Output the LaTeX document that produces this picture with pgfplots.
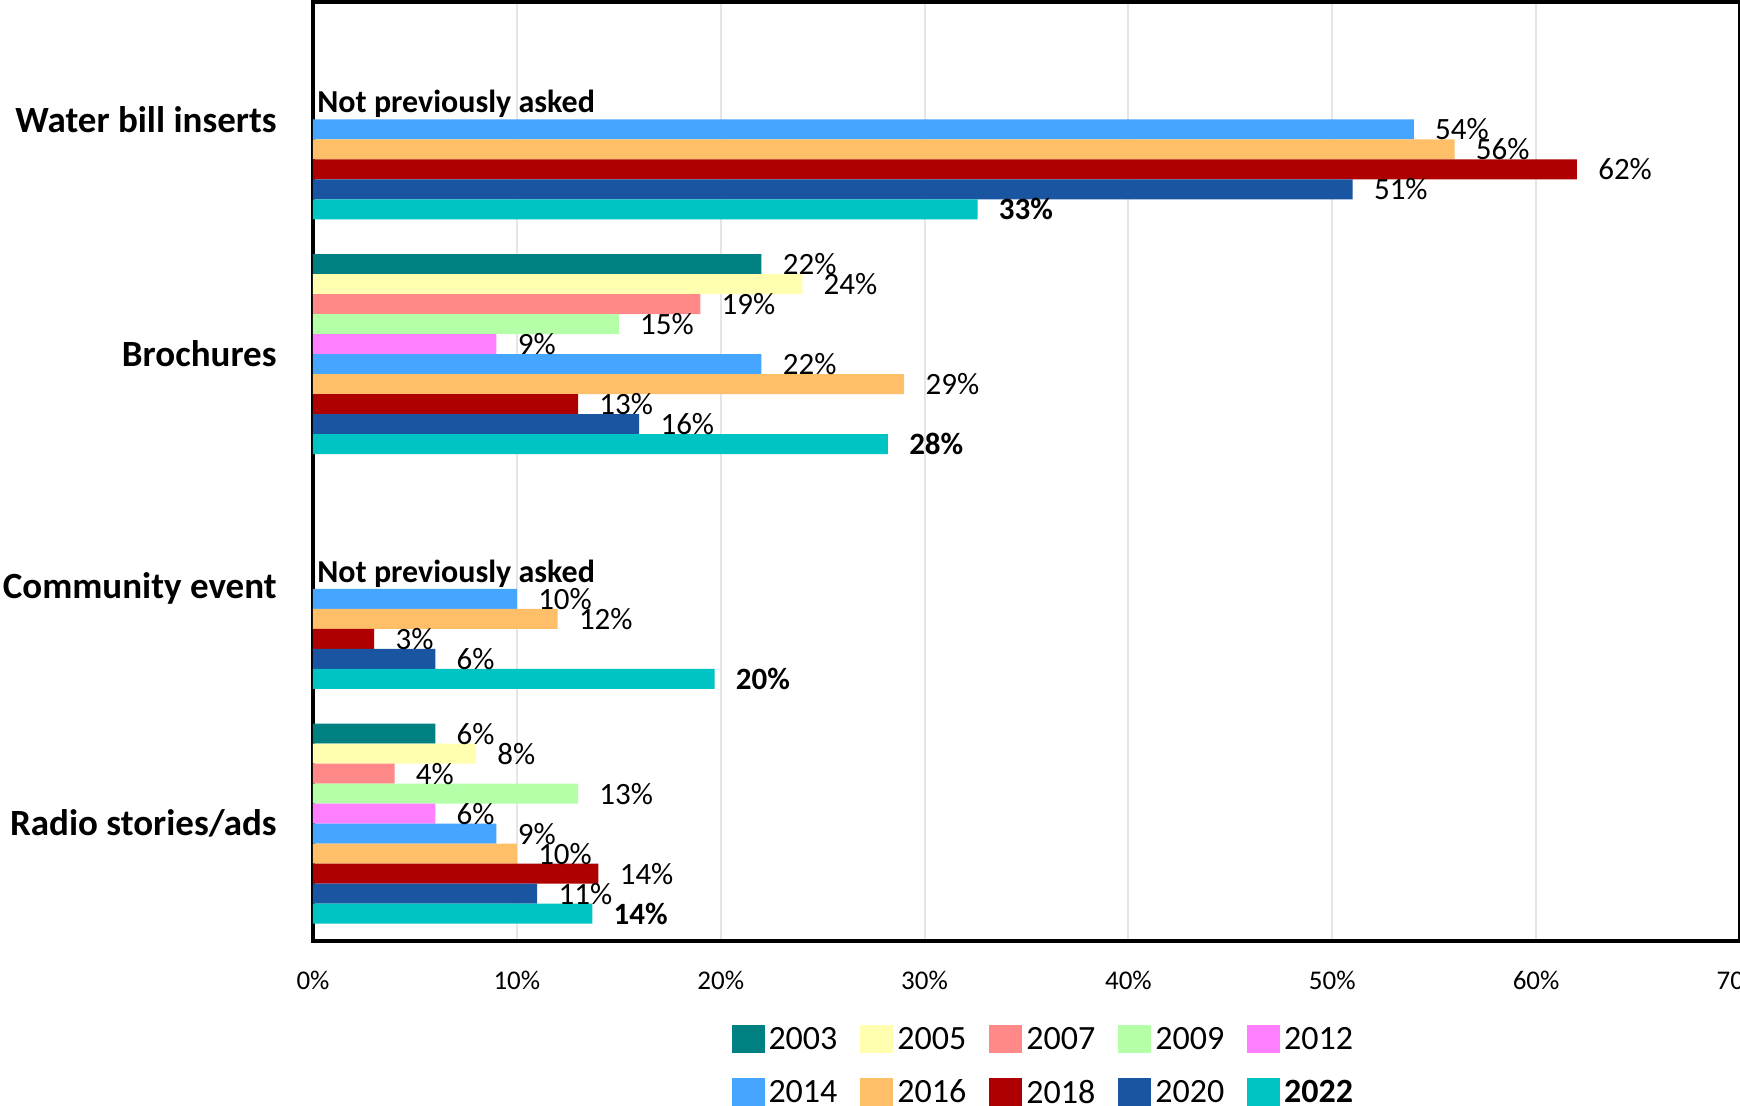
\documentclass[border=0pt]{standalone}
\usepackage{pgfplots}
\pgfplotsset{compat=1.18}
\usepackage{fontspec}
\setmainfont{Carlito}

\definecolor{c2003}{HTML}{008080}
\definecolor{c2005}{HTML}{FFFFAF}
\definecolor{c2007}{HTML}{FF8888}
\definecolor{c2009}{HTML}{B4FFA8}
\definecolor{c2012}{HTML}{FF80FF}
\definecolor{c2014}{HTML}{45A5FF}
\definecolor{c2016}{HTML}{FFBF69}
\definecolor{c2018}{HTML}{AE0000}
\definecolor{c2020}{HTML}{1A55A2}
\definecolor{c2022}{HTML}{00C3C3}

\begin{document}
\begin{tikzpicture}
\begin{axis}[
  scale only axis,
  width=713.5pt, height=469.5pt,
  xbar, bar width=0.0852,
  y dir=reverse,
  xmin=0, xmax=70, ymin=-0.5, ymax=3.5,
  xtick={0,10,...,70},
  xticklabels={0\%,10\%,20\%,30\%,40\%,50\%,60\%,70\%},
  ytick={0,1,2,3},
  yticklabels={Water bill inserts,Brochures,Community event,Radio stories/ads},
  major tick length=0pt,
  xmajorgrids, major grid style={color=black!10, line width=1pt},
  axis line style={line width=1.75pt},
  xticklabel style={font=\fontsize{13.5}{16}\selectfont, anchor=center, inner sep=0pt, yshift=-19.5pt},
  yticklabel style={font=\fontsize{18.5}{22}\selectfont\bfseries, anchor=east, inner sep=0pt, xshift=-18pt},
  point meta=x,
  /pgf/number format/assume math mode=true,
  nodes near coords={\pgfmathprintnumber[fixed,precision=0]{\pgfplotspointmeta}\%},
  every node near coord/.append style={anchor=west, inner sep=0pt, xshift=10.5pt,
    text=black, font=\fontsize{15.5}{18}\selectfont},
  legend columns=5,
  legend style={draw=none, fill=none, inner sep=0pt,
    at={(0.293,-0.089)}, anchor=north west,
    font=\fontsize{17}{20}\selectfont,
    nodes={inner sep=0pt},
    /tikz/every even column/.append style={column sep=11.5pt},
    /tikz/every odd column/.append style={column sep=2pt},
    row sep=12.5pt},
  legend cell align=left,
  legend image code/.code={\fill[#1,draw=none] (0pt,-6.5pt) rectangle (16.5pt,7.5pt);},
]
\addplot[fill=c2003, draw=none, bar shift=-0.3834] coordinates {(22,1) (6,3)};
\addplot[fill=c2005, draw=none, bar shift=-0.2982] coordinates {(24,1) (8,3)};
\addplot[fill=c2007, draw=none, bar shift=-0.2130] coordinates {(19,1) (4,3)};
\addplot[fill=c2009, draw=none, bar shift=-0.1278] coordinates {(15,1) (13,3)};
\addplot[fill=c2012, draw=none, bar shift=-0.0426] coordinates {(9,1) (6,3)};
\addplot[fill=c2014, draw=none, bar shift=0.0426] coordinates {(54,0) (22,1) (10,2) (9,3)};
\addplot[fill=c2016, draw=none, bar shift=0.1278] coordinates {(56,0) (29,1) (12,2) (10,3)};
\addplot[fill=c2018, draw=none, bar shift=0.2130] coordinates {(62,0) (13,1) (3,2) (14,3)};
\addplot[fill=c2020, draw=none, bar shift=0.2982] coordinates {(51,0) (16,1) (6,2) (11,3)};
\addplot[fill=c2022, draw=none, bar shift=0.3834,
  every node near coord/.append style={font=\fontsize{15.5}{18}\selectfont\bfseries}]
  coordinates {(32.6,0) (28.2,1) (19.7,2) (13.7,3)};
\legend{2003,2005,2007,2009,2012,2014,2016,2018,2020,\textbf{2022}}
\node[anchor=base west, inner sep=0pt, xshift=2pt, yshift=3.3pt,
  font=\fontsize{16}{19}\selectfont\bfseries] at (axis cs:0,0) {Not previously asked};
\node[anchor=base west, inner sep=0pt, xshift=2pt, yshift=3.3pt,
  font=\fontsize{16}{19}\selectfont\bfseries] at (axis cs:0,2) {Not previously asked};
\end{axis}
\pgfresetboundingbox
\path[use as bounding box] (-156.5pt,-82.5pt) rectangle (713.5pt,470.5pt);
\end{tikzpicture}
\end{document}
